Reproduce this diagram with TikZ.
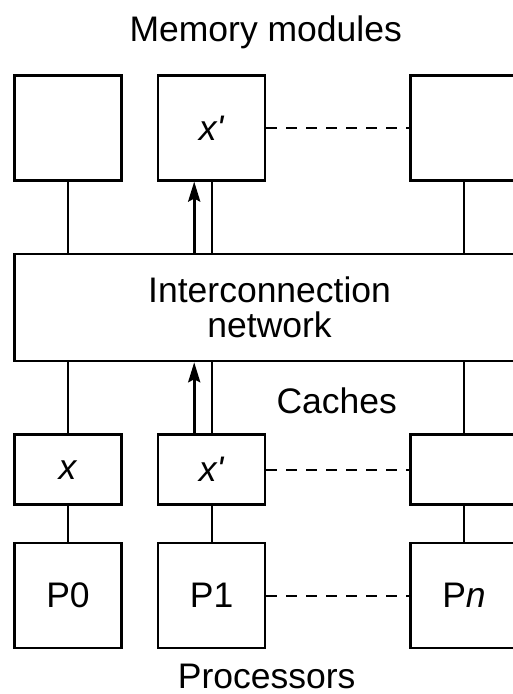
\documentclass[tikz,border=0pt]{standalone}
\usepackage{fontspec}
\setmainfont{Liberation Sans}[Ligatures=TeXOff]
\usetikzlibrary{arrows.meta}
\begin{document}
\begin{tikzpicture}[x=1pt,y=-1pt,
  box/.style={draw,line width=2.5pt,minimum width=107pt,inner sep=0pt,
    font=\fontsize{35.5}{34.7}\selectfont},
  tall/.style={box,minimum height=105pt},
  short/.style={box,minimum height=70pt},
  lbl/.style={anchor=base,inner sep=0pt,font=\fontsize{35.5}{34.7}\selectfont},
  conn/.style={line width=2pt},
  dashline/.style={line width=2.3pt,dash pattern=on 11pt off 9pt},
  arr/.style={line width=3pt,-{Stealth[length=20pt,width=12pt,inset=3pt]}}]
\useasboundingbox (0,0) rectangle (513,694);
\clip (0,0) rectangle (513,694);
% memory modules
\node[tall] (m1) at (68,127.8) {};
\node[tall] (m2) at (211.7,127.8) {\textit{x'}};
\node[tall] (m3) at (464,127.8) {};
% network
\node[box,minimum width=510pt,minimum height=107pt,align=center] (net) at (269.6,307.5)
  {Interconnection\\network};
% caches
\node[short] (c1) at (68,469.7) {\textit{x}};
\node[short] (c2) at (211.7,469.7) {\textit{x'}};
\node[short] (c3) at (464,469.7) {};
% processors
\node[tall] (p1) at (68,595.7) {P0};
\node[tall] (p2) at (211.7,595.7) {P1};
\node[tall] (p3) at (464,595.7) {P\textit{n}};
% labels
\node[lbl] (tmem) at (265.7,41.7) {Memory modules};
\node[lbl] (tcache) at (336.7,413.3) {Caches};
\node[lbl] (tproc) at (266.7,688) {Processors};
% connectors memory-network
\draw[conn] (m1.south) -- (m1.south |- net.north);
\draw[conn] (m2.south) -- (m2.south |- net.north);
\draw[conn] (m3.south) -- (m3.south |- net.north);
\draw[arr] ([xshift=-17.5pt]m2.south |- net.north) -- ([xshift=-17.5pt]m2.south);
% connectors network-caches
\draw[conn] (c1.north) -- (c1.north |- net.south);
\draw[conn] (c2.north) -- (c2.north |- net.south);
\draw[conn] (c3.north) -- (c3.north |- net.south);
\draw[arr] ([xshift=-17.5pt]c2.north) -- ([xshift=-17.5pt]c2.north |- net.south);
% caches-processors
\draw[conn] (c1.south) -- (p1.north);
\draw[conn] (c2.south) -- (p2.north);
\draw[conn] (c3.south) -- (p3.north);
% dashed
\draw[dashline] (m2.east) -- (m3.west);
\draw[dashline] (c2.east) -- (c3.west);
\draw[dashline] (p2.east) -- (p3.west);
\end{tikzpicture}
\end{document}
